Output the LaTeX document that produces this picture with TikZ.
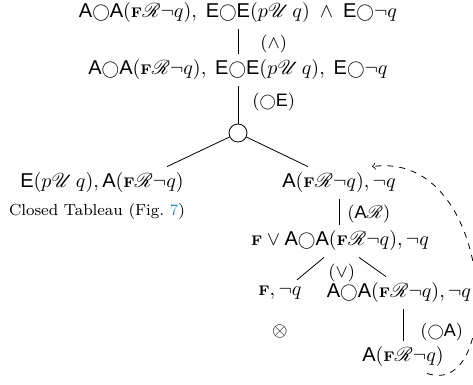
\documentclass[tikz,border=0pt]{standalone}
\usepackage{amsmath,amssymb}
\usepackage{mathrsfs}
\usepackage{graphicx}
\usepackage{fontspec}
\setsansfont{Liberation Sans}
\usetikzlibrary{calc}

\definecolor{figref}{RGB}{40,150,200}
\newcommand{\pA}{\text{\sffamily A}}
\newcommand{\pE}{\text{\sffamily E}}
\newcommand{\nx}{\mathord{\raisebox{0.02ex}{\scalebox{0.88}{$\bigcirc$}}}}
\newcommand{\Fs}{\mbox{\scriptsize\bfseries F}}
\newcommand{\Rl}{\mathscr{R}}
\newcommand{\Ul}{\mathscr{U}}

\begin{document}
\begin{tikzpicture}[
    x=0.5pt, y=-0.5pt,
    formula/.style={inner sep=3pt},
    rulelabel/.style={font=\small, anchor=west, inner sep=1pt},
    branch/.style={circle, draw, minimum size=9pt, inner sep=0pt},
    edge/.style={thin},
    loopback/.style={->, >=to, dashed, thin}
]
\useasboundingbox (0,0) rectangle (473,385);

% Trunk
\node[formula] (root) at (238,13) {$\pA\nx\pA(\Fs\Rl\neg q),\;\pE\nx\pE(p\Ul\,q)\;\wedge\;\pE\nx\neg q$};
\node[formula] (second) at (238,70) {$\pA\nx\pA(\Fs\Rl\neg q),\;\pE\nx\pE(p\Ul\,q),\;\pE\nx\neg q$};
\node[branch] (split) at (238,133) {};

% Left branch
\node[formula] (left) at (102,183) {$\pE(p\Ul\,q), \pA(\Fs\Rl\neg q)$};
\node[formula, font=\footnotesize] (closed) at (97,212) {Closed Tableau (Fig.~\textcolor{figref}{7})};

% Right branch
\node[formula] (right) at (339,183) {$\pA(\Fs\Rl\neg q), \neg q$};
\node[formula] (disj) at (340,241) {$\Fs\vee\pA\nx\pA(\Fs\Rl\neg q), \neg q$};
\node[formula] (fq) at (280,293) {$\Fs, \neg q$};
\node[formula] (nxt) at (399,293) {$\pA\nx\pA(\Fs\Rl\neg q), \neg q$};
\node[formula] (cross) at (280,332) {$\otimes$};
\node[formula] (loop) at (403,357) {$\pA(\Fs\Rl\neg q)$};

% Rule labels
\node[rulelabel] (lab1) at (258,44) {$(\wedge)$};
\node[rulelabel] (lab2) at (250,102) {$(\nx\pE)$};
\node[rulelabel] (lab3) at (345,214) {$(\pA\Rl)$};
\node[rulelabel] (lab4) at (326,273) {$(\vee)$};
\node[rulelabel] (lab5) at (418,332) {$(\nx\pA)$};

% Edges
\draw[edge] (root) -- (second);
\draw[edge] (second) -- (split);
\draw[edge] (split) -- ($(left.north)+(65,0)$);
\draw[edge] (split) -- ($(right.north)+(-31,0)$);
\draw[edge] (right) -- (right |- disj.north);
\draw[edge] ($(disj.south)+(-16,0)$) -- ($(fq.north)+(17,0)$);
\draw[edge] ($(disj.south)+(19,0)$) -- ($(nxt.north)+(-13,0)$);
\draw[edge] (loop |- nxt.south) -- (loop);

% Loop back
\draw[loopback] ($(loop.south)+(24,0)$) .. controls (505,400) and (495,150) .. ($(right.north east)+(-30,0)$);

\end{tikzpicture}
\end{document}
